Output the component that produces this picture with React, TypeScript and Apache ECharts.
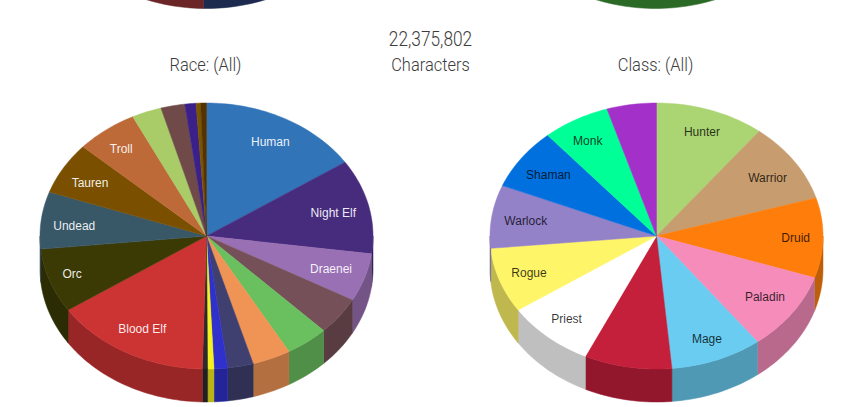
import React, { useEffect, useRef } from "react";
import * as echarts from "echarts";

const raceNames = ["Human", "Night Elf", "Draenei", "", "", "", "", "", "", "", "Blood Elf", "Orc", "Undead", "Tauren", "Troll", "", "", "", "", ""];
const raceShares = [15.64, 11.5, 5.86, 4.58, 4.17, 3.72, 2.5, 1.31, 0.61, 0.5, 15.22, 7.81, 6.94, 6.33, 6.0, 2.89, 2.33, 1.08, 0.44, 0.56];
const raceColors = ["#3274b8", "#472c7e", "#9a70b4", "#755058", "#6abf5f", "#f09455", "#3f4070", "#3030cc", "#f5f020", "#2b2b2b", "#cc3333", "#3b3a05", "#385868", "#7a5000", "#bd6a38", "#a9cb68", "#6f4a48", "#3a2088", "#7a5500", "#553300"];

const classNames = ["Hunter", "Warrior", "Druid", "Paladin", "Mage", "", "Priest", "Rogue", "Warlock", "Shaman", "Monk", ""];
const classShares = [10.58, 9.81, 9.69, 9.56, 8.89, 8.5, 8.58, 7.92, 7.67, 7.47, 6.53, 4.81];
const classColors = ["#abd473", "#c79c6e", "#ff7d0a", "#f58cba", "#69ccf0", "#c41f3b", "#ffffff", "#fff569", "#9482c9", "#0070de", "#00ff96", "#a330c9"];

const factionNames = ["", ""];
const factionShares = [50.25, 49.75];
const factionColors = ["#25386b", "#8f3134"];

const statusNames = [""];
const statusShares = [100];
const statusColors = ["#388d32"];

const totalText = "22,375,802";
const totalCaption = "Characters";
const raceTitle = "Race: (All)";
const classTitle = "Class: (All)";

const RX = 166.5;
const RY = 133;
const DEPTH = 33;
const LABEL_RADIUS = 0.8;
const SIDE_SHADE = 0.75;
const TITLE_FONT = 'Roboto, sans-serif';
const TITLE_SQUEEZE = 0.865;

// small layout corrections, in pixels, for labels placed off the common label ring
const labelNudges: Record<string, number[]> = {
  "Night Elf": [-3, 1], Draenei: [-2, 0], Orc: [-9, 2], Undead: [0, 3], Tauren: [-2, 1], Troll: [-5, -2], Human: [1, 0],
  Hunter: [2, -3], Warrior: [1, 2], Druid: [6, 0], Paladin: [0, -1], Mage: [2, 4], Priest: [-3, 2], Rogue: [-2, 1], Warlock: [1, 1], Shaman: [0, 1], Monk: [-4, -2],
};

function shade(hex: string) {
  const n = parseInt(hex.slice(1), 16);
  const c = (v: number) => Math.round(v * SIDE_SHADE);
  return `rgb(${c((n >> 16) & 255)},${c((n >> 8) & 255)},${c(n & 255)})`;
}

function pieSeries(names: string[], shares: number[], colors: string[], cx: number, cy: number, labelColor: string) {
  const total = shares.reduce((a, b) => a + b, 0);
  let run = 0;
  const data = shares.map((s, i) => {
    const start = (run / total) * 360;
    run += s;
    return { name: names[i], value: [start, (run / total) * 360, i] };
  });
  const rim = (deg: number, dy = 0) => {
    const t = (deg * Math.PI) / 180;
    return [cx + RX * Math.sin(t), cy - RY * Math.cos(t) + dy];
  };
  const arc = (a: number, b: number, dy = 0) => {
    const n = Math.max(2, Math.ceil((b - a) / 1.5));
    const pts: number[][] = [];
    for (let k = 0; k <= n; k++) pts.push(rim(a + ((b - a) * k) / n, dy));
    return pts;
  };
  return {
    type: "custom",
    coordinateSystem: "none",
    silent: true,
    clip: false,
    data,
    renderItem: (_p: any, api: any) => {
      const a = api.value(0) as number;
      const b = api.value(1) as number;
      const i = api.value(2) as number;
      const color = colors[i];
      const children: any[] = [];
      const sa = Math.max(a, 90);
      const sb = Math.min(b, 270);
      if (sb > sa) {
        const sideColor = shade(color);
        children.push({
          type: "polygon",
          shape: { points: [...arc(sa, sb), ...arc(sa, sb, DEPTH).reverse()] },
          style: { fill: sideColor, stroke: sideColor, lineWidth: 0.5 },
        });
      }
      children.push({
        type: "polygon",
        shape: { points: [[cx, cy], ...arc(a, b)] },
        style: { fill: color, stroke: color, lineWidth: 0.5 },
      });
      if (names[i]) {
        const m = ((a + b) / 2) * (Math.PI / 180);
        const nudge = labelNudges[names[i]] || [0, 0];
        children.push({
          type: "text",
          x: cx + LABEL_RADIUS * RX * Math.sin(m) + nudge[0],
          y: cy - LABEL_RADIUS * RY * Math.cos(m) + nudge[1],
          style: {
            text: names[i],
            fill: labelColor,
            font: '12px "Liberation Sans", Arial, sans-serif',
            align: "center",
            verticalAlign: "middle",
          },
        });
      }
      return { type: "group", children };
    },
  };
}

function heading(text: string, x: number, y: number, size: number) {
  return {
    type: "text",
    x,
    y,
    scaleX: TITLE_SQUEEZE,
    style: {
      text,
      fill: "#3c3c3c",
      font: `300 ${size}px ${TITLE_FONT}`,
      align: "center",
      verticalAlign: "middle",
    },
  };
}

export default function App() {
  const ref = useRef<HTMLDivElement>(null);
  useEffect(() => {
    const chart = echarts.init(ref.current!, undefined, { renderer: "svg" });
    chart.setOption({
      animation: false,
      backgroundColor: "#ffffff",
      series: [
        pieSeries(factionNames, factionShares, factionColors, 206, -157.5, "#ffffff"),
        pieSeries(statusNames, statusShares, statusColors, 655.5, -157.5, "#ffffff"),
        pieSeries(raceNames, raceShares, raceColors, 206.5, 236, "rgba(255,255,255,0.92)"),
        pieSeries(classNames, classShares, classColors, 656.5, 236, "rgba(0,0,0,0.78)"),
      ],
      graphic: [
        heading(totalText, 430.5, 40, 20),
        heading(totalCaption, 430.5, 65, 19),
        heading(raceTitle, 205.5, 65, 19),
        heading(classTitle, 655.5, 65, 19),
      ],
    });
    return () => chart.dispose();
  }, []);
  return <div ref={ref} style={{ position: "fixed", left: 0, top: 0, width: 842, height: 407 }} />;
}
